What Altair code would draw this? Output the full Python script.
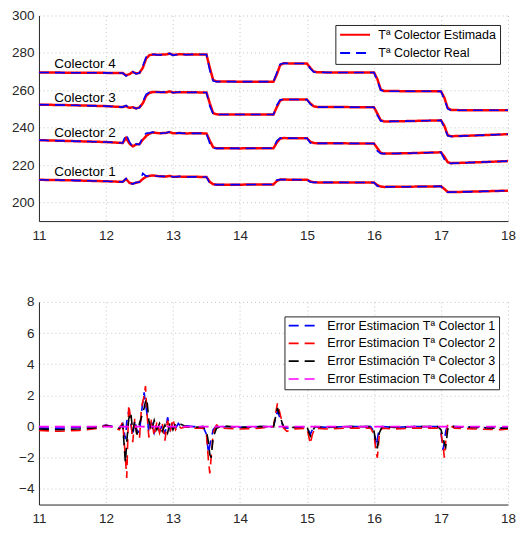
import altair as alt
import pandas as pd

# ---------------- top panel data ----------------
t_top = [11.0, 11.5, 12.0, 12.25, 12.3, 12.35, 12.4, 12.45, 12.5, 12.55, 12.6, 12.65, 12.7,
         12.8, 12.9, 12.95, 13.0, 13.1, 13.2, 13.3, 13.5, 13.55, 13.6, 13.65, 14.0, 14.5,
         14.55, 14.6, 14.65, 15.0, 15.05, 15.1, 15.15, 15.5, 16.0, 16.05, 16.1, 16.15, 16.5,
         17.0, 17.05, 17.1, 17.15, 17.5, 18.0]

est4 = [269.5, 269.4, 269.3, 269.2, 268.0, 268.6, 269.8, 269.0, 269.3, 272.0, 277.0, 278.8, 279.1,
        279.0, 279.2, 279.6, 278.9, 279.3, 279.1, 279.2, 279.1, 272.0, 265.5, 264.7, 264.6, 264.6,
        268.5, 273.5, 274.4, 274.3, 272.0, 270.0, 269.6, 269.5, 269.5, 266.0, 260.5, 259.6, 259.5,
        259.4, 256.0, 250.5, 249.4, 249.3, 249.3]
real4 = [269.5, 269.4, 269.3, 269.2, 267.6, 268.8, 269.9, 268.8, 269.2, 273.0, 277.8, 279.0, 279.2,
         278.9, 279.3, 279.7, 278.7, 279.4, 279.0, 279.2, 279.1, 270.5, 265.0, 264.6, 264.6, 264.6,
         269.5, 274.0, 274.4, 274.3, 271.5, 269.8, 269.6, 269.5, 269.5, 265.0, 260.0, 259.5, 259.5,
         259.4, 255.0, 250.0, 249.3, 249.3, 249.3]

est3 = [252.3, 252.0, 251.5, 251.0, 251.5, 250.6, 250.9, 250.3, 250.8, 253.0, 257.0, 258.6, 259.1,
        259.0, 258.9, 259.4, 258.8, 259.0, 258.9, 258.9, 258.8, 253.0, 247.8, 247.1, 247.0, 247.0,
        251.0, 254.5, 255.1, 255.0, 253.0, 251.4, 251.1, 251.0, 250.9, 247.5, 244.0, 243.3, 243.5,
        243.9, 241.0, 236.0, 235.4, 235.8, 236.5]
real3 = [252.3, 252.0, 251.5, 251.0, 251.9, 250.3, 251.0, 250.1, 250.7, 254.0, 257.8, 258.9, 259.2,
         258.9, 259.0, 259.5, 258.7, 259.1, 258.8, 258.9, 258.8, 251.5, 247.3, 247.0, 247.0, 247.0,
         252.0, 254.9, 255.1, 255.0, 252.5, 251.2, 251.0, 251.0, 250.9, 246.5, 243.6, 243.3, 243.5,
         243.9, 240.0, 235.6, 235.3, 235.8, 236.5]

est2 = [233.3, 232.8, 232.3, 231.8, 234.5, 231.5, 230.0, 231.0, 231.2, 233.5, 235.5, 236.8, 237.4,
        237.0, 237.2, 237.6, 237.0, 237.1, 236.9, 237.0, 236.9, 233.0, 229.5, 229.0, 228.9, 229.0,
        232.0, 234.2, 234.4, 234.3, 232.5, 231.8, 231.6, 231.6, 231.5, 229.0, 226.5, 226.1, 226.3,
        226.8, 224.5, 221.5, 221.0, 221.4, 222.1]
real2 = [233.3, 232.8, 232.3, 231.8, 236.5, 232.5, 229.5, 231.3, 230.9, 235.0, 237.0, 237.2, 237.6,
         236.9, 237.3, 237.7, 236.9, 237.2, 236.8, 237.0, 236.9, 231.5, 229.0, 228.9, 228.9, 229.0,
         233.0, 234.4, 234.4, 234.3, 231.8, 231.6, 231.6, 231.6, 231.5, 227.5, 226.2, 226.1, 226.3,
         226.8, 223.0, 221.0, 220.9, 221.4, 222.1]

est1 = [212.1, 211.8, 211.3, 211.0, 212.5, 210.5, 210.0, 210.5, 211.0, 212.5, 213.8, 214.2, 214.4,
        214.0, 213.8, 214.2, 213.7, 213.8, 213.7, 213.7, 213.6, 211.0, 209.7, 209.5, 209.5, 209.6,
        211.5, 212.2, 212.2, 212.1, 211.2, 210.8, 210.7, 210.7, 210.6, 209.2, 208.5, 208.3, 208.4,
        208.6, 207.2, 205.6, 205.5, 205.8, 206.3]
real1 = [212.1, 211.8, 211.3, 211.0, 212.8, 210.3, 209.8, 210.7, 210.8, 215.5, 214.0, 214.3, 214.5,
         213.9, 213.9, 214.3, 213.6, 213.9, 213.6, 213.7, 213.6, 210.0, 209.5, 209.5, 209.5, 209.6,
         212.0, 212.2, 212.2, 212.1, 210.9, 210.7, 210.7, 210.7, 210.6, 208.6, 208.4, 208.3, 208.4,
         208.6, 206.5, 205.4, 205.5, 205.8, 206.3]

label_text = ["Colector 1", "Colector 2", "Colector 3", "Colector 4"]
label_x = [11.23, 11.23, 11.23, 11.23]
label_y = [216.0, 237.0, 256.0, 273.8]

series_top = ["Tª Colector Estimada", "Tª Colector Real"]

# ---------------- bottom panel data ----------------
t_err = [11.0, 11.3, 11.6, 11.9, 12.0, 12.1, 12.2, 12.25, 12.29, 12.31, 12.34, 12.37, 12.4, 12.43,
         12.46, 12.5, 12.53, 12.57, 12.59, 12.61, 12.64, 12.68, 12.72, 12.76, 12.8, 12.84, 12.88,
         12.92, 12.96, 13.0, 13.04, 13.08, 13.12, 13.2, 13.3, 13.45, 13.5, 13.53, 13.55, 13.57,
         13.6, 13.65, 13.75, 14.0, 14.3, 14.5, 14.53, 14.56, 14.6, 14.65, 14.7, 14.8, 15.0, 15.03,
         15.05, 15.08, 15.12, 15.3, 15.6, 15.95, 16.0, 16.03, 16.05, 16.08, 16.12, 16.3, 16.6,
         16.95, 17.0, 17.03, 17.05, 17.07, 17.1, 17.13, 17.2, 17.5, 17.9, 18.0]

err1 = [-0.1, -0.1, -0.05, 0.0, 0.1, 0.0, -0.1, 0.2, -0.8, 0.3, 1.0, 0.2, -0.6, 0.4,
        -0.2, -0.4, 0.9, 2.2, 1.5, 0.9, -0.4, 0.3, -0.4, 0.2, -0.3, 0.1, -0.5,
        0.6, -0.2, 0.3, -0.1, 0.2, 0.0, 0.05, 0.0, 0.0, -0.5, -1.7, -1.2, -0.8,
        -0.2, 0.05, 0.0, -0.05, 0.0, 0.0, 0.5, 1.0, 0.5, -0.05, -0.1, -0.05, 0.0, -0.3,
        -0.5, -0.2, 0.0, -0.05, 0.0, 0.0, -0.3, -1.3, -0.8, -0.1, 0.0, -0.05, 0.0,
        0.0, -0.4, -1.5, -1.0, -0.3, 0.1, 0.0, 0.0, -0.05, -0.1, -0.1]
err2 = [-0.25, -0.3, -0.25, -0.1, 0.1, -0.05, -0.2, 0.3, -2.0, -3.3, 1.4, 0.5, -1.0, 0.5,
        -0.4, -0.8, 1.2, 2.0, 2.6, 1.0, -0.7, 0.5, -0.6, 0.3, -0.4, 0.2, -0.9,
        0.4, -0.3, 0.5, -0.2, 0.1, -0.1, 0.0, -0.1, -0.1, -0.5, -2.2, -3.0, -2.0,
        -0.4, 0.1, -0.1, -0.15, -0.1, 0.0, 0.8, 1.5, 0.8, -0.1, -0.3, -0.15, -0.1, -0.7,
        -1.1, -0.5, -0.1, -0.15, -0.1, -0.1, -0.5, -1.6, -2.0, -0.5, -0.1, -0.15, -0.1,
        -0.1, -0.4, -1.2, -2.0, -1.0, 0.2, 0.1, -0.1, -0.15, -0.2, -0.15]
err3 = [-0.15, -0.2, -0.15, -0.05, 0.05, 0.0, -0.1, 0.1, -2.3, -1.0, 0.5, 0.9, -0.3, 0.3,
        -0.5, 0.2, 0.6, 1.2, 1.6, 1.8, 0.4, -0.3, 0.4, -0.2, 0.2, -0.3, 0.1,
        -0.4, 0.3, -0.2, 0.2, 0.1, 0.15, 0.0, -0.05, 0.0, -0.3, -1.0, -1.8, -2.0,
        -0.7, -0.1, 0.05, -0.05, 0.0, 0.0, 0.6, 1.2, 0.6, 0.0, -0.1, -0.05, 0.0, -0.4,
        -0.6, -0.3, 0.0, -0.05, 0.0, 0.0, -0.3, -1.0, -1.4, -0.4, 0.0, -0.05, 0.0,
        0.0, -0.2, -0.7, -1.1, -1.3, -0.2, 0.05, 0.0, -0.05, -0.1, -0.1]
err4 = [0.0] * len(t_err)

series_bot = ["Error Estimacion Tª Colector 1", "Error Estimacion Tª Colector 2",
              "Error Estimación Tª Colector 3", "Error Estimacion Tª Colector 4"]
colors_bot = ["#0000ff", "#ff0000", "#000000", "#ff00ff"]

x_ticks = [11, 12, 13, 14, 15, 16, 17, 18]
y_ticks_top = [200, 220, 240, 260, 280, 300]
y_ticks_bot = [-4, -2, 0, 2, 4, 6, 8]

# ---------------- build tables ----------------
rows = []
for c, (e, r) in enumerate([(est1, real1), (est2, real2), (est3, real3), (est4, real4)]):
    for t, v in zip(t_top, e):
        rows.append({"t": t, "v": v, "serie": series_top[0], "col": c})
    for t, v in zip(t_top, r):
        rows.append({"t": t, "v": v, "serie": series_top[1], "col": c})
df_top = pd.DataFrame(rows)

df_lab = pd.DataFrame({"t": label_x, "v": label_y, "txt": label_text})

rows = []
for s, vals in zip(series_bot, [err1, err2, err3, err4]):
    for t, v in zip(t_err, vals):
        rows.append({"t": t, "v": v, "serie": s})
df_bot = pd.DataFrame(rows)

W = 470
H_TOP, H_BOT = 206, 203
FONT = "Liberation Sans"
DASH = [10, 6]
SYM = "M-1,0H5"   # long horizontal stroke symbol (30 px at size 100)

x_enc = alt.X("t:Q", scale=alt.Scale(domain=[11, 18], nice=False),
              axis=alt.Axis(values=x_ticks, title=None, format="d", labelFlush=False))

leg_top = alt.Legend(orient="none", legendX=297, legendY=9.5, title=None,
                     symbolType=SYM, symbolSize=100, symbolStrokeWidth=2,
                     labelFontSize=12.5, labelFont=FONT, labelColor="#000000",
                     labelLimit=400, padding=3.5, rowPadding=5.3, labelOffset=27,
                     fillColor="white", strokeColor="#262626")

color_top = alt.Color("serie:N", scale=alt.Scale(domain=series_top, range=["#ff0000", "#0000ff"]),
                      legend=leg_top)
dash_top = alt.StrokeDash("serie:N", scale=alt.Scale(domain=series_top, range=[[1, 0], DASH]),
                          legend=leg_top)

y_top = alt.Y("v:Q", scale=alt.Scale(domain=[190, 300], nice=False),
              axis=alt.Axis(values=y_ticks_top, title=None))

base_top = alt.Chart(df_top).encode(x=x_enc, y=y_top, color=color_top, strokeDash=dash_top,
                                    detail="col:N")
est_layer = base_top.transform_filter(alt.datum.serie == series_top[0]).mark_line(strokeWidth=2.5)
real_layer = base_top.transform_filter(alt.datum.serie == series_top[1]).mark_line(strokeWidth=1.6)
text_layer = alt.Chart(df_lab).mark_text(align="left", baseline="middle", fontSize=13.5,
                                         font=FONT, color="#000000").encode(
    x=alt.X("t:Q"), y=alt.Y("v:Q"), text="txt:N")

top = alt.layer(est_layer, real_layer, text_layer).properties(width=W, height=H_TOP)

leg_bot = alt.Legend(orient="none", legendX=246, legendY=14.5, title=None,
                     symbolType=SYM, symbolSize=100, symbolStrokeWidth=1.6,
                     symbolDash=DASH, labelFontSize=12.5, labelFont=FONT,
                     labelColor="#000000", labelLimit=400, padding=3, rowPadding=4.8,
                     labelOffset=27.5, fillColor="white", strokeColor="#262626")
color_bot = alt.Color("serie:N", scale=alt.Scale(domain=series_bot, range=colors_bot),
                      legend=leg_bot)
y_bot = alt.Y("v:Q", scale=alt.Scale(domain=[-5, 8], nice=False),
              axis=alt.Axis(values=y_ticks_bot, title=None))

base_bot = alt.Chart(df_bot).encode(x=x_enc, y=y_bot, color=color_bot)
bot_layers = [base_bot.transform_filter(alt.datum.serie == s).mark_line(strokeWidth=1.6,
                                                                          strokeDash=DASH)
              for s in series_bot]
bottom = alt.layer(*bot_layers).properties(width=W, height=H_BOT)

chart = alt.vconcat(top, bottom, spacing=81, bounds="flush").resolve_scale(
    color="independent", strokeDash="independent", y="independent"
).properties(
    padding={"left": 3, "top": 0, "right": 0, "bottom": 0},
).configure_view(stroke=None).configure_axis(
    grid=True, gridColor="#c4c4c4", gridDash=[1, 3], gridWidth=1,
    domainColor="#262626", domainWidth=1, ticks=False,
    labelFont=FONT, labelFontSize=13.5, labelColor="#262626",
).configure_axisY(labelPadding=5).configure_axisX(labelPadding=7)

chart.save("out.html", embed_options={"renderer": "svg", "actions": False})
